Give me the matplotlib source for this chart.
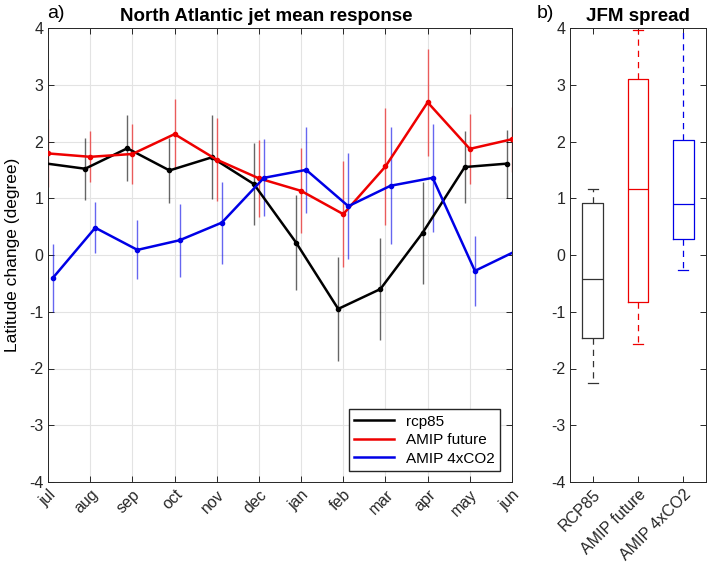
import numpy as np
import matplotlib
matplotlib.use("Agg")
import matplotlib.pyplot as plt
from matplotlib.lines import Line2D

plt.rcParams["font.family"] = ["Liberation Sans", "DejaVu Sans"]
plt.rcParams["axes.unicode_minus"] = False

# Monthly jet latitude response (degree) and error bar half-widths
months = ["jul", "aug", "sep", "oct", "nov", "dec", "jan", "feb", "mar", "apr", "may", "jun"]
rcp85 = [1.62, 1.52, 1.88, 1.49, 1.72, 1.25, 0.22, -0.95, -0.60, 0.39, 1.55, 1.61]
rcp85_err = [0.55, 0.55, 0.58, 0.58, 0.74, 0.73, 0.83, 0.92, 0.90, 0.90, 0.63, 0.60]
amip_fut = [1.79, 1.73, 1.78, 2.13, 1.68, 1.35, 1.13, 0.72, 1.56, 2.69, 1.87, 2.04]
amip_fut_err = [0.60, 0.45, 0.53, 0.62, 0.73, 0.68, 0.75, 0.93, 1.03, 0.94, 0.62, 0.57]
amip_4x = [-0.40, 0.48, 0.09, 0.26, 0.57, 1.36, 1.50, 0.86, 1.22, 1.36, -0.28, 0.08]
amip_4x_err = [0.60, 0.45, 0.52, 0.64, 0.72, 0.68, 0.76, 0.93, 1.03, 0.95, 0.62, 0.60]

# JFM spread box statistics
box_labels = ["RCP85", "AMIP future", "AMIP 4xCO2"]
box_whislo = [-2.25, -1.56, -0.26]
box_q1 = [-1.47, -0.82, 0.28]
box_med = [-0.43, 1.16, 0.89]
box_q3 = [0.92, 3.10, 2.02]
box_whishi = [1.17, 3.96, 4.60]

c_black = "#000000"
c_red = "#ee0000"
c_blue = "#0000e6"

fig = plt.figure(figsize=(7.09, 5.68), dpi=100)
ax1 = fig.add_axes([48 / 709, 86 / 568, 464 / 709, 454 / 568])
ax2 = fig.add_axes([570 / 709, 86 / 568, 136 / 709, 454 / 568])

x = np.arange(len(months))
series = [
    (rcp85, rcp85_err, c_black, -0.12, "rcp85"),
    (amip_fut, amip_fut_err, c_red, 0.0, "AMIP future"),
    (amip_4x, amip_4x_err, c_blue, 0.12, "AMIP 4xCO2"),
]
handles = []
for vals, err, col, off, lab in series:
    xs = x + off
    ax1.errorbar(xs, vals, yerr=err, fmt="none", ecolor=col, elinewidth=1.0, alpha=0.6, capsize=0, zorder=2)
    ax1.plot(xs, vals, color=col, linewidth=1.8, marker="o", markersize=3, zorder=3)
    handles.append(Line2D([], [], color=col, linewidth=1.8, label=lab))

ax1.set_xlim(0, 11)
ax1.set_ylim(-4, 4)
ax1.set_xticks(x)
ax1.set_xticklabels(months, rotation=45, ha="right", rotation_mode="anchor")
ax1.set_yticks(range(-4, 5))
ax1.grid(True, color="#e3e3e3", linewidth=0.8)
ax1.set_axisbelow(True)
ax1.set_ylabel("Latitude change (degree)", fontsize=12.5, labelpad=6)
ax1.set_title("North Atlantic jet mean response", fontsize=13.5, fontweight="bold", pad=5,
              x=(266 - 48) / 464)
ax1.legend(handles=handles, loc="lower right", bbox_to_anchor=(0.974, 0.024), borderaxespad=0,
           fancybox=False, edgecolor="#262626", fontsize=11, handlelength=2.6,
           framealpha=1, borderpad=0.35, labelspacing=0.3)

# Box plot panel
stats = []
for i in range(3):
    stats.append(dict(med=box_med[i], q1=box_q1[i], q3=box_q3[i],
                      whislo=box_whislo[i], whishi=box_whishi[i], fliers=[]))
box_cols = ["#333333", c_red, c_blue]
for i, st in enumerate(stats):
    col = box_cols[i]
    ax2.bxp([st], positions=[i + 1], widths=0.45, capwidths=0.22, showfliers=False,
            boxprops=dict(color=col, linewidth=0.9),
            medianprops=dict(color=col, linewidth=0.9),
            whiskerprops=dict(color=col, linewidth=0.9, linestyle=(0, (5, 4))),
            capprops=dict(color=col, linewidth=0.9))
ax2.set_xlim(0.5, 3.5)
ax2.set_ylim(-4, 4)
ax2.set_yticks(range(-4, 5))
ax2.set_xticks([1, 2, 3])
ax2.set_xticklabels(box_labels, rotation=45, ha="right", rotation_mode="anchor")
ax2.set_title("JFM spread", fontsize=13.5, fontweight="bold", pad=5)

for ax in (ax1, ax2):
    ax.tick_params(direction="in", top=True, right=True, length=4, width=0.7,
                   color="#262626", labelsize=11.5, labelcolor="#262626")
    for sp in ax.spines.values():
        sp.set_color("#262626")
        sp.set_linewidth(0.7)

fig.text(47 / 709, 1 - 13 / 568, "a)", fontsize=14, va="center", ha="left")
fig.text(537 / 709, 1 - 13 / 568, "b)", fontsize=14, va="center", ha="left")

fig.savefig("out.png", dpi=100)
plt.close(fig)
